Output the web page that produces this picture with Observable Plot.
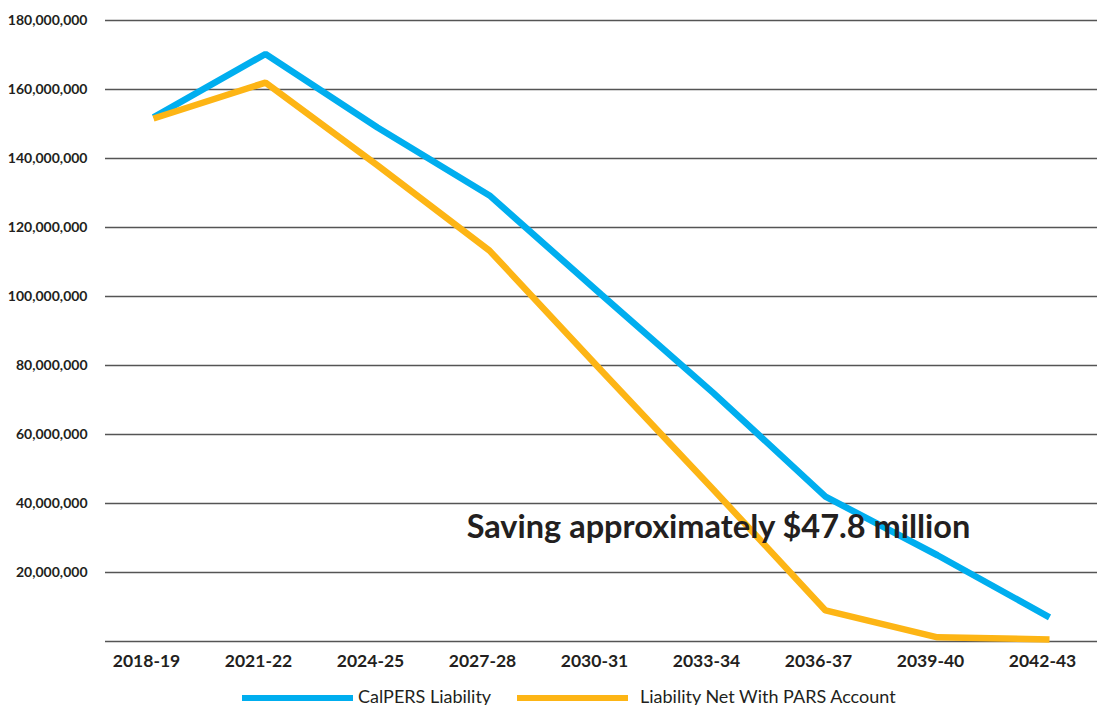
<!DOCTYPE html>
<html>
<head>
<meta charset="utf-8">
<script src="https://cdn.jsdelivr.net/npm/d3@7"></script>
<script src="https://cdn.jsdelivr.net/npm/@observablehq/plot@0.6"></script>
<style>
  body { margin: 0; background: #fff; font-family: Lato, "Noto Sans", sans-serif; }
  #chart svg { display: block; }
  .legend { position: relative; height: 25px; width: 1097px; color: #231f20; font-size: 18px; }
  .legend .sw { position: absolute; top: 15px; height: 6px; }
  .legend .lb { position: absolute; top: 5px; line-height: 22px; }
</style>
</head>
<body>
<div id="chart"></div>
<div class="legend" id="legend"></div>
<script>
const years = ["2018-19","2021-22","2024-25","2027-28","2030-31","2033-34","2036-37","2039-40","2042-43"];
const calpers = [151900000, 170300000, 149000000, 129300000, 100500000, 72000000, 42000000, 25000000, 7000000];
const netPars = [151600000, 162000000, 138000000, 113300000, 78500000, 44000000, 9000000, 1200000, 600000];
const yTicks = [20000000, 40000000, 60000000, 80000000, 100000000, 120000000, 140000000, 160000000, 180000000];
const gridValues = [0, ...yTicks];
const seriesNames = ["CalPERS Liability", "Liability Net With PARS Account"];
const seriesColors = ["#00aeef", "#fdb515"];
const annotation = [{label: "Saving approximately $47.8 million", year: "2033-34", value: 33000000}];

const rows = [];
years.forEach((y, i) => {
  rows.push({year: y, value: calpers[i], series: seriesNames[0]});
  rows.push({year: y, value: netPars[i], series: seriesNames[1]});
});

const chart = Plot.plot({
  width: 1097,
  height: 680,
  marginTop: 20,
  marginBottom: 39,
  marginLeft: 105,
  marginRight: 0,
  style: {fontFamily: "Lato, 'Noto Sans', sans-serif", color: "#231f20", background: "#fff"},
  x: {type: "point", domain: years, padding: 0.418},
  y: {domain: [0, 180000000]},
  color: {domain: seriesNames, range: seriesColors},
  marks: [
    Plot.ruleY(gridValues, {stroke: "#555", strokeWidth: 1.4}),
    Plot.axisY({ticks: yTicks, tickSize: 0, tickPadding: 18, tickFormat: d3.format(","), fontSize: 14, fontWeight: "bold", label: null}),
    Plot.axisX({tickSize: 0, tickPadding: 13, fontSize: 17.5, fontWeight: "bold", label: null, dx: -7}),
    Plot.line(rows, {x: "year", y: "value", z: "series", stroke: "series", strokeWidth: 6.5, strokeLinecap: "butt", strokeLinejoin: "miter"}),
    Plot.text(annotation, {x: "year", y: "value", text: "label", fontSize: 32.5, fontWeight: "bold", fill: "#231f20", dx: 5})
  ]
});
document.getElementById("chart").appendChild(chart);

const legend = document.getElementById("legend");
const swX = [242, 517];
const lbX = [358, 640];
seriesNames.forEach((name, i) => {
  const sw = document.createElement("div");
  sw.className = "sw";
  sw.style.left = swX[i] + "px";
  sw.style.width = "111px";
  sw.style.background = seriesColors[i];
  legend.appendChild(sw);
  const lb = document.createElement("div");
  lb.className = "lb";
  lb.style.left = lbX[i] + "px";
  lb.textContent = name;
  legend.appendChild(lb);
});
</script>
</body>
</html>
